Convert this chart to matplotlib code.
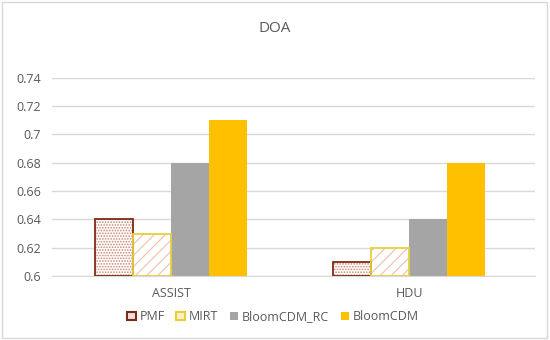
import matplotlib.pyplot as plt
from matplotlib.patches import Patch, Rectangle
import numpy as np

# Data
datasets = ['ASSIST', 'HDU']
series_names = ['PMF', 'MIRT', 'BloomCDM_RC', 'BloomCDM']
pmf = [0.64, 0.61]
mirt = [0.63, 0.62]
bloom_rc = [0.68, 0.64]
bloom = [0.71, 0.68]
yticks = [0.6, 0.62, 0.64, 0.66, 0.68, 0.7, 0.72, 0.74]
ytick_labels = ['0.6', '0.62', '0.64', '0.66', '0.68', '0.7', '0.72', '0.74']

plt.rcParams['font.family'] = ['Open Sans', 'DejaVu Sans']
plt.rcParams['hatch.linewidth'] = 0.8

fig = plt.figure(figsize=(5.5, 3.4), dpi=100)
ax = fig.add_axes([0.095, 0.188, 0.878, 0.583])

# outer chart border
fig.patches.append(Rectangle((0.004, 0.006), 0.99, 0.988, transform=fig.transFigure,
                             fill=False, edgecolor='#D9D9D9', linewidth=1.0))

x = np.arange(len(datasets))
w = 0.16
offsets = [-1.5 * w, -0.5 * w, 0.5 * w, 1.5 * w]
base = 0.6

# PMF: dotted fill with dark red border
ax.bar(x + offsets[0], np.array(pmf) - base, w, bottom=base, color='white',
       hatch='......', edgecolor='#C98470', linewidth=0, zorder=2)
ax.bar(x + offsets[0], np.array(pmf) - base, w, bottom=base, fill=False,
       edgecolor='#7F2A14', linewidth=1.3, zorder=3)

# MIRT: brick-like fill with yellow border
ax.bar(x + offsets[1], np.array(mirt) - base, w, bottom=base, color='white',
       hatch='///', edgecolor='#F2C0A8', linewidth=0, zorder=2)
ax.bar(x + offsets[1], np.array(mirt) - base, w, bottom=base, fill=False,
       edgecolor='#E8CF3A', linewidth=1.3, zorder=3)

ax.bar(x + offsets[2], np.array(bloom_rc) - base, w, bottom=base,
       color='#A5A5A5', zorder=2)
ax.bar(x + offsets[3], np.array(bloom) - base, w, bottom=base,
       color='#FFC000', zorder=2)

ax.set_ylim(0.6, 0.74)
ax.set_xlim(-0.5, 1.53)
ax.set_yticks(yticks)
ax.set_yticklabels(ytick_labels)
ax.set_xticks(x)
ax.set_xticklabels(datasets)
ax.tick_params(axis='both', length=0, labelsize=9, colors='#595959', pad=8)
ax.grid(axis='y', color='#D9D9D9', linewidth=1.0, zorder=0)
ax.set_axisbelow(True)
for s in ['top', 'right', 'left']:
    ax.spines[s].set_visible(False)
ax.spines['bottom'].set_color('#D9D9D9')

fig.text(0.5, 0.915, 'DOA', ha='center', va='center', fontsize=11, color='#595959')

handles = [
    Patch(facecolor='#F2DCDB', edgecolor='#7F2A14', linewidth=1.5),
    Patch(facecolor='#FBEFC8', edgecolor='#E8CF3A', linewidth=1.5),
    Patch(facecolor='#A5A5A5', edgecolor='none'),
    Patch(facecolor='#FFC000', edgecolor='none'),
]
leg = fig.legend(handles, series_names, loc='center', bbox_to_anchor=(0.497, 0.068),
                 ncol=4, frameon=False, fontsize=9, handlelength=0.7, handleheight=0.7,
                 handletextpad=0.3, columnspacing=0.9)
for t in leg.get_texts():
    t.set_color('#595959')

fig.savefig('out.png', dpi=100)
